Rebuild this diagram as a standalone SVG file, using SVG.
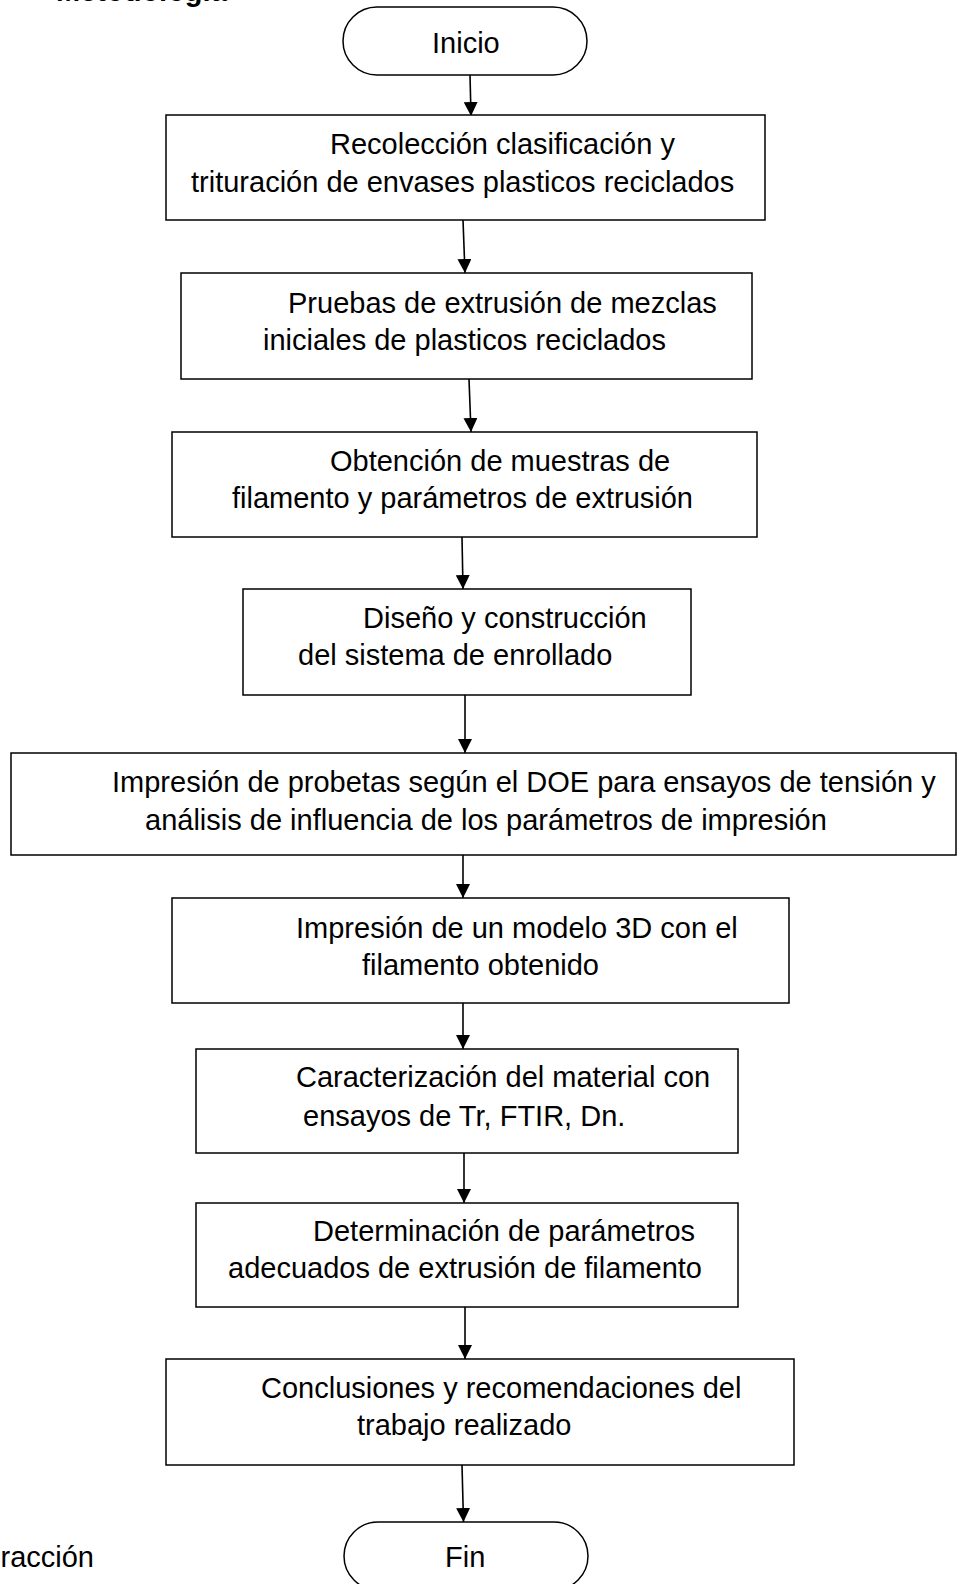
<svg xmlns="http://www.w3.org/2000/svg" width="957" height="1584" viewBox="0 0 957 1584">
<style>
  .box { fill: #ffffff; stroke: #000000; stroke-width: 1.5; }
  .term { fill: #ffffff; stroke: #000000; stroke-width: 1.5; }
  text { font-family: "Liberation Sans", Arial, sans-serif; font-size: 29px; fill: #000000; }
  .head { font-weight: bold; }
  .conn { stroke: #000000; stroke-width: 1.6; fill: none; marker-end: url(#arrow); }
</style>
<defs>
  <marker id="arrow" markerUnits="userSpaceOnUse" markerWidth="14" markerHeight="14" refX="14" refY="7" orient="auto">
    <path d="M0,0 L14,7 L0,14 Z" fill="#000000"/>
  </marker>
</defs>
<rect width="957" height="1584" fill="#ffffff"/>
<text class="head" x="56" y="0.5">Metodología</text>
<text x="0.5" y="1567">racción</text>

<g id="connectors">
  <line class="conn" x1="470" y1="75" x2="471" y2="116"/>
  <line class="conn" x1="463" y1="220" x2="465" y2="273"/>
  <line class="conn" x1="469" y1="379" x2="471" y2="432"/>
  <line class="conn" x1="462" y1="537" x2="463" y2="589"/>
  <line class="conn" x1="465" y1="695" x2="465" y2="753"/>
  <line class="conn" x1="463" y1="855" x2="463" y2="898"/>
  <line class="conn" x1="463" y1="1003" x2="463" y2="1049"/>
  <line class="conn" x1="464" y1="1153" x2="464" y2="1203"/>
  <line class="conn" x1="465" y1="1307" x2="465" y2="1359"/>
  <line class="conn" x1="462" y1="1465" x2="463.5" y2="1522"/>
</g>

<g id="inicio">
  <rect class="term" x="343" y="7" width="244" height="68" rx="34" ry="34"/>
  <text x="432" y="53">Inicio</text>
</g>
<g id="n1">
  <rect class="box" x="166" y="115" width="599" height="105"/>
  <text x="330" y="154">Recolección clasificación y</text>
  <text x="191" y="192">trituración de envases plasticos reciclados</text>
</g>
<g id="n2">
  <rect class="box" x="181" y="273" width="571" height="106"/>
  <text x="288" y="313">Pruebas de extrusión de mezclas</text>
  <text x="263" y="350">iniciales de plasticos reciclados</text>
</g>
<g id="n3">
  <rect class="box" x="172" y="432" width="585" height="105"/>
  <text x="330" y="471">Obtención de muestras de</text>
  <text x="232" y="508">filamento y parámetros de extrusión</text>
</g>
<g id="n4">
  <rect class="box" x="243" y="589" width="448" height="106"/>
  <text x="363" y="628">Diseño y construcción</text>
  <text x="298" y="665">del sistema de enrollado</text>
</g>
<g id="n5">
  <rect class="box" x="11" y="753" width="945" height="102"/>
  <text x="112" y="792">Impresión de probetas según el DOE para ensayos de tensión y</text>
  <text x="145" y="830">análisis de influencia de los parámetros de impresión</text>
</g>
<g id="n6">
  <rect class="box" x="172" y="898" width="617" height="105"/>
  <text x="296" y="938">Impresión de un modelo 3D con el</text>
  <text x="362" y="975">filamento obtenido</text>
</g>
<g id="n7">
  <rect class="box" x="196" y="1049" width="542" height="104"/>
  <text x="296" y="1087">Caracterización del material con</text>
  <text x="303" y="1126">ensayos de Tr, FTIR, Dn.</text>
</g>
<g id="n8">
  <rect class="box" x="196" y="1203" width="542" height="104"/>
  <text x="313" y="1241">Determinación de parámetros</text>
  <text x="228" y="1278">adecuados de extrusión de filamento</text>
</g>
<g id="n9">
  <rect class="box" x="166" y="1359" width="628" height="106"/>
  <text x="261" y="1398">Conclusiones y recomendaciones del</text>
  <text x="357" y="1435">trabajo realizado</text>
</g>
<g id="fin">
  <rect class="term" x="344" y="1522" width="244" height="68" rx="34" ry="34"/>
  <text x="445" y="1567">Fin</text>
</g>
</svg>
